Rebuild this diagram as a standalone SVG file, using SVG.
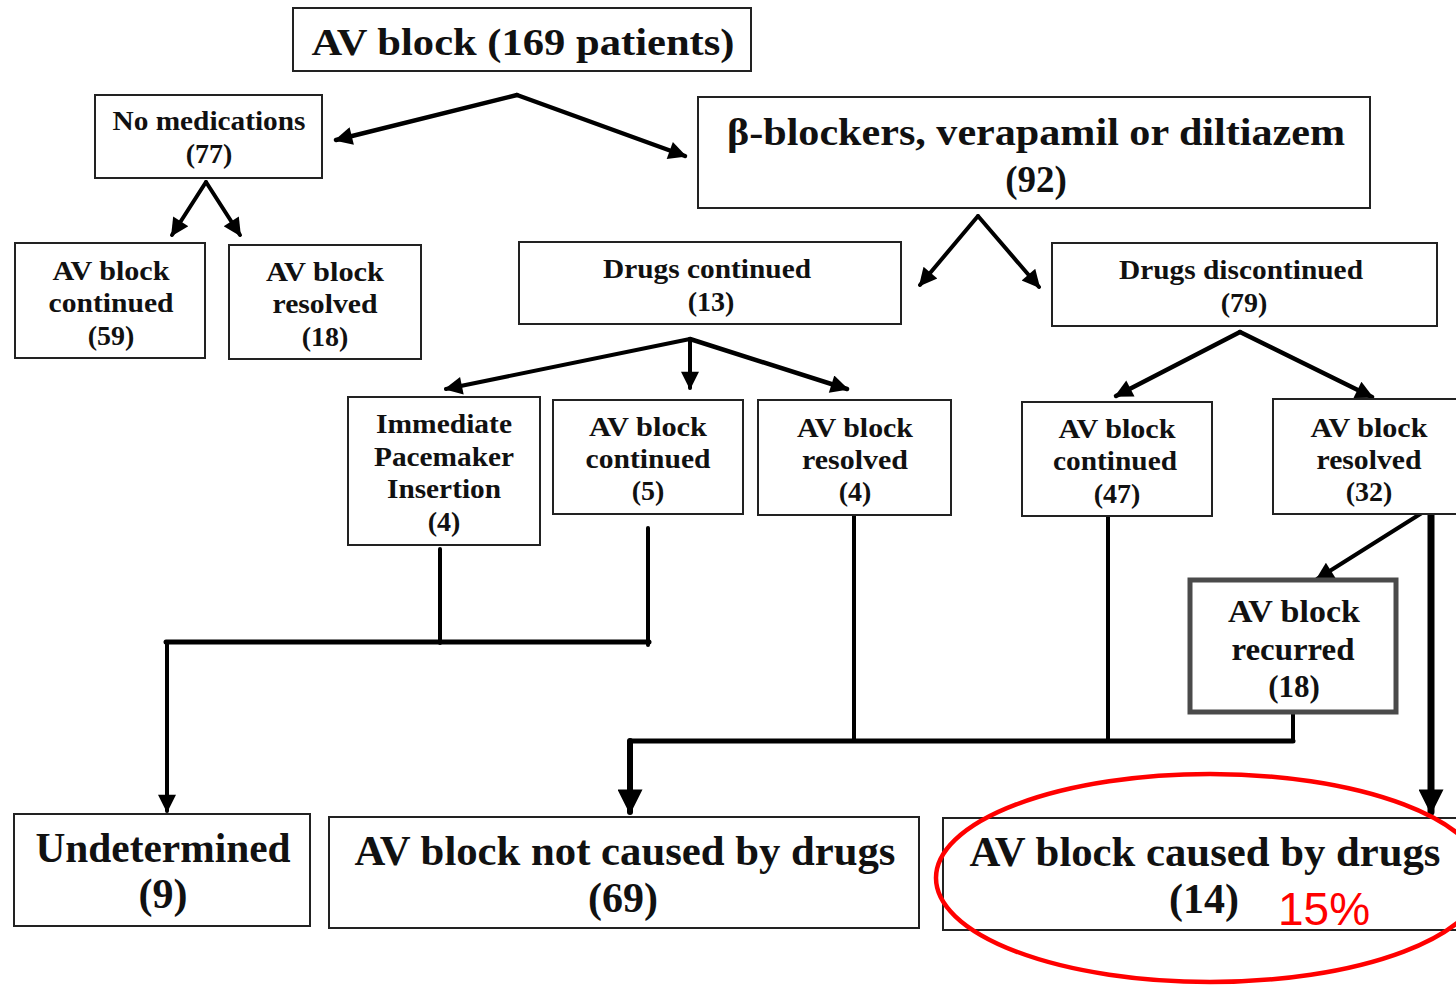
<svg xmlns="http://www.w3.org/2000/svg" width="1456" height="985" viewBox="0 0 1456 985">
<style>
.box{fill:#fff;stroke:#222;stroke-width:2}
.rec{fill:#fff;stroke:#4a4a4a;stroke-width:5}
.t{font-family:"Liberation Serif","Times New Roman",serif;font-weight:bold;fill:#111;text-anchor:middle}
.s{font-size:28px}
.m{font-size:31px}
.l{font-size:42px}
.c{fill:none;stroke:#000;stroke-linecap:round;stroke-linejoin:round}
</style>
<defs>
<marker id="ah" viewBox="0 0 10 10" refX="9" refY="5" markerWidth="23" markerHeight="18" markerUnits="userSpaceOnUse" orient="auto"><path d="M0,0 L10,5 L0,10 z" fill="#000"/></marker>
<marker id="big" viewBox="0 0 10 10" refX="9" refY="5" markerWidth="30" markerHeight="25" markerUnits="userSpaceOnUse" orient="auto"><path d="M0,0 L10,5 L0,10 z" fill="#000"/></marker>
</defs>
<rect width="1456" height="985" fill="#fff"/>

<g id="connectors">
<path class="c" stroke-width="4.5" d="M517,95 L336,140" marker-end="url(#ah)"/>
<path class="c" stroke-width="4.5" d="M517,95 L685,156" marker-end="url(#ah)"/>
<path class="c" stroke-width="4" d="M206,182 L172,235" marker-end="url(#ah)"/>
<path class="c" stroke-width="4" d="M206,182 L240,235" marker-end="url(#ah)"/>
<path class="c" stroke-width="4" d="M978,216 L920,285" marker-end="url(#ah)"/>
<path class="c" stroke-width="4" d="M978,216 L1039,287" marker-end="url(#ah)"/>
<path class="c" stroke-width="4" d="M690,339 L446,389" marker-end="url(#ah)"/>
<path class="c" stroke-width="4" d="M690,339 L690,388" marker-end="url(#ah)"/>
<path class="c" stroke-width="4.5" d="M690,339 L847,389" marker-end="url(#ah)"/>
<path class="c" stroke-width="4.5" d="M1240,332 L1116,396" marker-end="url(#ah)"/>
<path class="c" stroke-width="4.5" d="M1240,332 L1372,397" marker-end="url(#ah)"/>
<path class="c" stroke-width="4" d="M1425,511 L1317,579" marker-end="url(#ah)"/>
<path class="c" stroke-width="7" stroke-linecap="butt" d="M1431,512 L1431,812" marker-end="url(#big)"/>
<path class="c" stroke-width="4" d="M440,549 V643"/>
<path class="c" stroke-width="4" d="M648,528 V645"/>
<path class="c" stroke-width="5" d="M166,642 H649"/>
<path class="c" stroke-width="4" d="M167,643 V811" marker-end="url(#ah)"/>
<path class="c" stroke-width="4" d="M854,515 V741"/>
<path class="c" stroke-width="4" d="M1108,517 V741"/>
<path class="c" stroke-width="4" d="M1293,714 V741"/>
<path class="c" stroke-width="5" d="M630,741 H1293"/>
<path class="c" stroke-width="6" stroke-linecap="butt" d="M630,741 V812" marker-end="url(#big)"/>
</g>

<g id="n_total">
<rect class="box" x="293" y="8" width="458" height="63"/>
<text class="t" x="523" y="55" font-size="38" textLength="423" lengthAdjust="spacingAndGlyphs">AV block (169 patients)</text>
</g>

<g id="n_nomed">
<rect class="box" x="95" y="95" width="227" height="83"/>
<text class="t s" x="209" y="130" textLength="193" lengthAdjust="spacingAndGlyphs">No medications</text>
<text class="t s" x="209" y="163">(77)</text>
</g>

<g id="n_nomed_cont">
<rect class="box" x="15" y="243" width="190" height="115"/>
<text class="t s" x="111" y="280" textLength="117" lengthAdjust="spacingAndGlyphs">AV block</text>
<text class="t s" x="111" y="312" textLength="125" lengthAdjust="spacingAndGlyphs">continued</text>
<text class="t s" x="111" y="345">(59)</text>
</g>

<g id="n_nomed_res">
<rect class="box" x="229" y="245" width="192" height="114"/>
<text class="t s" x="325" y="281" textLength="118" lengthAdjust="spacingAndGlyphs">AV block</text>
<text class="t s" x="325" y="313" textLength="105" lengthAdjust="spacingAndGlyphs">resolved</text>
<text class="t s" x="325" y="346">(18)</text>
</g>

<g id="n_drugs">
<rect class="box" x="698" y="97" width="672" height="111"/>
<text class="t" x="1036" y="145" font-size="37" textLength="618" lengthAdjust="spacingAndGlyphs">β-blockers, verapamil or diltiazem</text>
<text class="t" x="1036" y="192" font-size="37">(92)</text>
</g>

<g id="n_dcont">
<rect class="box" x="519" y="242" width="382" height="82"/>
<text class="t s" x="707" y="278" textLength="208" lengthAdjust="spacingAndGlyphs">Drugs continued</text>
<text class="t s" x="711" y="311">(13)</text>
</g>

<g id="n_ddisc">
<rect class="box" x="1052" y="243" width="385" height="83"/>
<text class="t s" x="1241" y="279" textLength="244" lengthAdjust="spacingAndGlyphs">Drugs discontinued</text>
<text class="t s" x="1244" y="312">(79)</text>
</g>

<g id="n_pace">
<rect class="box" x="348" y="397" width="192" height="148"/>
<text class="t s" x="444" y="433" textLength="136" lengthAdjust="spacingAndGlyphs">Immediate</text>
<text class="t s" x="444" y="466" textLength="140" lengthAdjust="spacingAndGlyphs">Pacemaker</text>
<text class="t s" x="444" y="498" textLength="114" lengthAdjust="spacingAndGlyphs">Insertion</text>
<text class="t s" x="444" y="531">(4)</text>
</g>

<g id="n_c5">
<rect class="box" x="553" y="400" width="190" height="114"/>
<text class="t s" x="648" y="436" textLength="118" lengthAdjust="spacingAndGlyphs">AV block</text>
<text class="t s" x="648" y="468" textLength="125" lengthAdjust="spacingAndGlyphs">continued</text>
<text class="t s" x="648" y="500">(5)</text>
</g>

<g id="n_r4">
<rect class="box" x="758" y="400" width="193" height="115"/>
<text class="t s" x="855" y="437" textLength="116" lengthAdjust="spacingAndGlyphs">AV block</text>
<text class="t s" x="855" y="469" textLength="106" lengthAdjust="spacingAndGlyphs">resolved</text>
<text class="t s" x="855" y="501">(4)</text>
</g>

<g id="n_c47">
<rect class="box" x="1022" y="402" width="190" height="114"/>
<text class="t s" x="1117" y="438" textLength="117" lengthAdjust="spacingAndGlyphs">AV block</text>
<text class="t s" x="1115" y="470" textLength="124" lengthAdjust="spacingAndGlyphs">continued</text>
<text class="t s" x="1117" y="503">(47)</text>
</g>

<g id="n_r32">
<rect class="box" x="1273" y="399" width="190" height="115"/>
<text class="t s" x="1369" y="437" textLength="117" lengthAdjust="spacingAndGlyphs">AV block</text>
<text class="t s" x="1369" y="469" textLength="105" lengthAdjust="spacingAndGlyphs">resolved</text>
<text class="t s" x="1369" y="501">(32)</text>
</g>

<g id="n_recur">
<rect class="rec" x="1190" y="580" width="206" height="132"/>
<text class="t m" x="1294" y="622" textLength="132" lengthAdjust="spacingAndGlyphs">AV block</text>
<text class="t m" x="1293" y="660" textLength="123" lengthAdjust="spacingAndGlyphs">recurred</text>
<text class="t m" x="1294" y="697">(18)</text>
</g>

<g id="n_undet">
<rect class="box" x="14" y="814" width="296" height="112"/>
<text class="t l" x="163" y="862" textLength="255" lengthAdjust="spacingAndGlyphs">Undetermined</text>
<text class="t l" x="163" y="908">(9)</text>
</g>

<g id="n_notdrug">
<rect class="box" x="329" y="817" width="590" height="111"/>
<text class="t l" x="625" y="865" textLength="541" lengthAdjust="spacingAndGlyphs">AV block not caused by drugs</text>
<text class="t l" x="623" y="912">(69)</text>
</g>

<g id="n_drug">
<rect class="box" x="943" y="818" width="520" height="112"/>
<text class="t l" x="1205" y="866" textLength="471" lengthAdjust="spacingAndGlyphs">AV block caused by drugs</text>
<text class="t l" x="1204" y="913">(14)</text>
</g>

<g id="highlight">
<ellipse cx="1210" cy="878" rx="274" ry="104" fill="none" stroke="#f00" stroke-width="4.5"/>
<text x="1278" y="925" font-family="Liberation Sans, Arial, sans-serif" font-size="46" fill="#f00">15%</text>
</g>
</svg>
